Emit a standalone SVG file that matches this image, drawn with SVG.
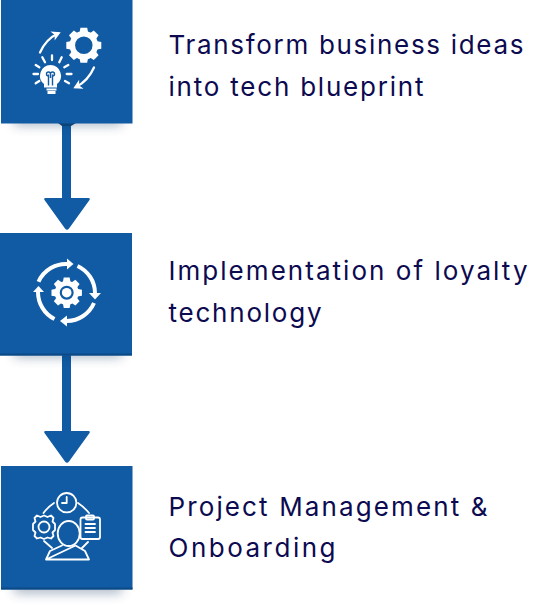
<svg xmlns="http://www.w3.org/2000/svg" width="545" height="611" viewBox="0 0 545 611">
<style>
.box{fill:#105ba4}
.edge{fill:#0c4a85}
.shadow{fill:#10305a;opacity:.36;filter:url(#blur)}
.label{font-family:"Inter","Lato","Liberation Sans",sans-serif;font-size:26px;font-weight:400;fill:#0c0a50;font-variant-ligatures:none}
.conn{fill:#105ba4}
.w{fill:#fff}
.l{fill:none;stroke:#fff;stroke-linecap:round;stroke-linejoin:round}
.arc{fill:none;stroke:#fff;stroke-width:4}
</style>
<defs>
<filter id="blur" x="-20%" y="-80%" width="140%" height="260%"><feGaussianBlur stdDeviation="6"/></filter>
<marker id="a" markerUnits="userSpaceOnUse" markerWidth="12" markerHeight="12" refX="7" refY="6" orient="auto"><path d="M1 1L10 6L1 11L3.500 6Z" fill="#fff"/></marker>
<path id="tooth" d="M-3.400 -17.500H3.400L4.400 -12H-4.400Z" fill="#fff"/>
</defs>
<g id="connectors">
<path class="conn" d="M62 123H71V198H88.500Q90.500 198 89.500 200L69 228.500Q67 231 65 228.500L44.500 200Q43.500 198 45.500 198H62Z"/>
<path class="conn" d="M62 355H71V431H88.500Q90.500 431 89.500 433L69 461.500Q67 464 65 461.500L44.500 433Q43.500 431 45.500 431H62Z"/>
</g>
<rect class="shadow" x="14" y="112" width="108" height="13"/>
<rect class="shadow" x="14" y="344" width="108" height="13"/>
<rect class="shadow" x="14" y="578" width="108" height="15"/>
<path d="M58 123H76L71 126H62Z" fill="#0b4277"/>
<g id="node1">
<rect class="box" x="1" y="0" width="131.500" height="123.500"/>
<g transform="translate(83.800 45.300)">
<use href="#tooth"/><use href="#tooth" transform="rotate(45)"/><use href="#tooth" transform="rotate(90)"/><use href="#tooth" transform="rotate(135)"/><use href="#tooth" transform="rotate(180)"/><use href="#tooth" transform="rotate(225)"/><use href="#tooth" transform="rotate(270)"/><use href="#tooth" transform="rotate(315)"/>
<circle r="11.500" fill="none" stroke="#fff" stroke-width="5.500"/>
</g>
<path class="l" stroke-width="2.300" d="M40 52.500Q46 39 58 33.500" marker-end="url(#a)"/>
<path class="l" stroke-width="2.300" d="M94 67.500Q88 81 76 87" marker-end="url(#a)"/>
<path class="w" d="M50.500 65A10.700 10.700 0 0 1 57 84V87.500H44V84A10.700 10.700 0 0 1 50.500 65Z"/>
<rect class="w" x="46.500" y="88.500" width="10" height="2"/><rect class="w" x="47.500" y="91" width="8" height="3"/>
<path d="M48.500 85.500V74.500M52.500 85.500V74.500M48.500 76A2 2 0 1 1 50.500 74V78M52.500 76A2 2 0 1 0 50.500 74" fill="none" stroke="#105ba4" stroke-width="1.400"/>
<path class="l" stroke-width="2.300" d="M52 55.500V60M42.300 57.300L45 62.300M61.700 57.300L59.300 62.300M35.700 65L39.300 67.300M68.300 65L64.300 67.300M33.500 74H38M66.700 74H71.500M35.700 83.300L39.300 81M69 83.300L65 81"/>
</g>
<g id="node2">
<rect class="box" x="0" y="233" width="132" height="122.500"/>
<rect class="edge" x="0" y="353.500" width="132" height="2"/>
<g transform="translate(66.700 292.700)">
<g transform="scale(.87)"><use href="#tooth"/><use href="#tooth" transform="rotate(45)"/><use href="#tooth" transform="rotate(90)"/><use href="#tooth" transform="rotate(135)"/><use href="#tooth" transform="rotate(180)"/><use href="#tooth" transform="rotate(225)"/><use href="#tooth" transform="rotate(270)"/><use href="#tooth" transform="rotate(315)"/></g>
<circle r="9.500" fill="none" stroke="#fff" stroke-width="5"/>
<circle r="4.800" fill="#fff"/>
</g>
<path class="arc" d="M38.500 281.700A30 30 0 0 1 68 264"/>
<path class="arc" d="M77.500 266A30 30 0 0 1 95 293"/>
<path class="arc" d="M94 303A30 30 0 0 1 67 321"/>
<path class="arc" d="M54.500 319A30 30 0 0 1 38 292"/>
<path class="w" d="M67 258.500L73.500 264L67 269.500Z"/><path class="w" d="M89 293H101L95 299.500Z"/><path class="w" d="M67 315.500L60 321L67 326.500Z"/><path class="w" d="M33 292L38.500 286L44 292Z"/>
</g>
<g id="node3">
<rect class="box" x="1" y="466" width="131.500" height="123.500"/>
<rect class="edge" x="1" y="587.500" width="131.500" height="2"/>
<g class="l" stroke-width="1.800">
<circle cx="66.700" cy="502.700" r="9.700"/>
<path d="M66.700 497V503H62"/>
<path d="M44 515.500L47.500 517L51 515.500L53.500 518L52.500 521.500L55 524L55 527L55 530L52.500 532.500L53.500 536L51 538.500L47.500 537.500L44 539L40.500 537.500L37 538.500L34.500 536L35.500 532.500L33 530L33 527L33 524L35.500 521.500L34.500 518L37 515.500L40.500 517Z"/>
<circle cx="44" cy="527" r="5.500"/>
<rect x="80.500" y="517.500" width="19.500" height="21.500" rx="2"/>
<rect x="86" y="515.500" width="8" height="4" rx="1"/>
<path d="M85.500 524H95M85.500 528H95M85.500 532H95"/>
<ellipse cx="68.700" cy="533.500" rx="11" ry="12.500"/>
<path d="M46 559.500L50 551L62 545.500M75.500 545.500L85 551L89 559.500H46Z"/>
<path d="M44 541L52 548M88 542L82 548M43.500 513Q48 507 54 503M78 503Q84 507 89 513"/>
</g>
</g>
<g id="text">
<text class="label" x="168.500" y="54" textLength="355" lengthAdjust="spacing">Transform business ideas</text>
<text class="label" x="168.500" y="96" textLength="255" lengthAdjust="spacing">into tech blueprint</text>
<text class="label" x="168.500" y="280" textLength="359" lengthAdjust="spacing">Implementation of loyalty</text>
<text class="label" x="168.500" y="322" textLength="153" lengthAdjust="spacing">technology</text>
<text class="label" x="168.500" y="516" textLength="319" lengthAdjust="spacing">Project Management &amp;</text>
<text class="label" x="168.500" y="557" textLength="167" lengthAdjust="spacing">Onboarding</text>
</g>
</svg>
